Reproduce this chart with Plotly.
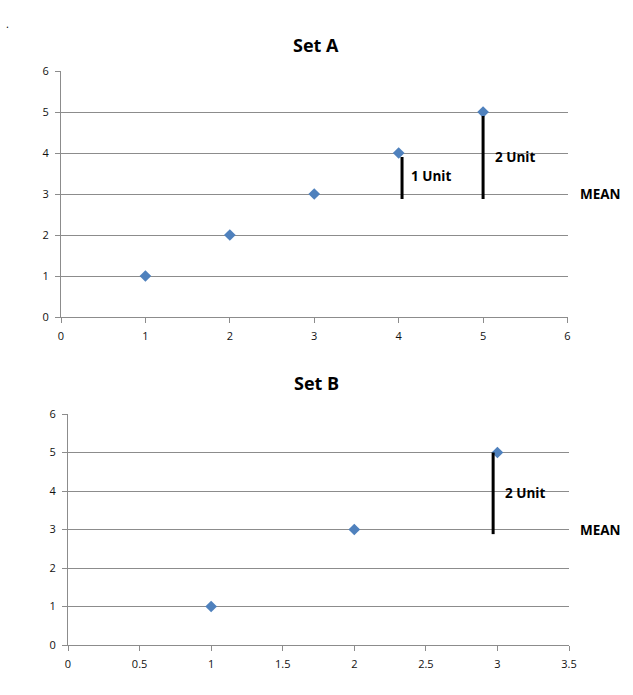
import plotly.graph_objects as go

# Data
set_a_x = [1, 2, 3, 4, 5]
set_a_y = [1, 2, 3, 4, 5]
set_b_x = [1, 2, 3]
set_b_y = [1, 3, 5]
a_ticks_x = [0, 1, 2, 3, 4, 5, 6]
b_ticks_x = [0, 0.5, 1, 1.5, 2, 2.5, 3, 3.5]
y_ticks = [0, 1, 2, 3, 4, 5, 6]
a_unit_points = [4, 5]       # x-values of Set A points with deviation bars
b_unit_points = [3]          # x-values of Set B points with deviation bars

mean_a = sum(set_a_y) / len(set_a_y)
mean_b = sum(set_b_y) / len(set_b_y)

W, H = 633, 695
def px(x):
    return x / W
def py(y):
    return 1 - y / H

FONT = "Open Sans"
MARK = "#4F81BD"
GRID = "#8C8C8C"
LBL = 13.5

fig = go.Figure()
fig.add_trace(go.Scatter(x=set_a_x, y=set_a_y, mode="markers",
                         marker=dict(symbol="diamond", size=9, color=MARK),
                         xaxis="x", yaxis="y", showlegend=False))
fig.add_trace(go.Scatter(x=set_b_x, y=set_b_y, mode="markers",
                         marker=dict(symbol="diamond", size=9, color=MARK),
                         xaxis="x2", yaxis="y2", showlegend=False))

axis_common = dict(showline=True, linecolor=GRID, linewidth=1, ticks="outside",
                   ticklen=5, tickcolor=GRID, zeroline=False, automargin=False,
                   ticklabelstandoff=4,
                   tickfont=dict(family=FONT, size=11, color="#111"))

fig.update_layout(
    width=W, height=H, margin=dict(l=0, r=0, t=0, b=0),
    plot_bgcolor="white", paper_bgcolor="white",
    xaxis=dict(domain=[px(61), px(567.5)], range=[0, 6], tickvals=a_ticks_x,
               showgrid=False, anchor="y", **axis_common),
    yaxis=dict(domain=[py(317), py(71)], range=[0, 6], tickvals=y_ticks,
               showgrid=True, gridcolor=GRID, gridwidth=1, anchor="x", **axis_common),
    xaxis2=dict(domain=[px(68), px(569)], range=[0, 3.5], tickvals=b_ticks_x,
                ticktext=[str(v) for v in b_ticks_x],
                showgrid=False, anchor="y2", **axis_common),
    yaxis2=dict(domain=[py(645), py(414)], range=[0, 6], tickvals=y_ticks,
                showgrid=True, gridcolor=GRID, gridwidth=1, anchor="x2", **axis_common),
)

shapes = []
annos = []
# Set A deviation bars
for xv in a_unit_points:
    yv = set_a_y[set_a_x.index(xv)]
    dev = yv - mean_a
    off = 0.04 if dev < 1.5 else 0.0
    shapes.append(dict(type="line", xref="x", yref="y", x0=xv + off, x1=xv + off,
                       y0=mean_a - 0.12, y1=yv - 0.1, line=dict(color="black", width=3)))
    annos.append(dict(xref="x", yref="y", x=xv + 0.12,
                      y=(mean_a + yv) / 2 - 0.05 if dev < 1.5 else (mean_a + yv) / 2 - 0.1,
                      text=f"<b>{int(dev)} Unit</b>", showarrow=False, xanchor="left",
                      yanchor="middle", font=dict(family=FONT, size=LBL, color="black")))
for xv in b_unit_points:
    yv = set_b_y[set_b_x.index(xv)]
    dev = yv - mean_b
    shapes.append(dict(type="line", xref="x2", yref="y2", x0=xv - 0.03, x1=xv - 0.03,
                       y0=mean_b - 0.12, y1=yv, line=dict(color="black", width=3)))
    annos.append(dict(xref="x2", yref="y2", x=xv + 0.04, y=(mean_b + yv) / 2 - 0.05,
                      text=f"<b>{int(dev)} Unit</b>", showarrow=False, xanchor="left",
                      yanchor="middle", font=dict(family=FONT, size=LBL, color="black")))

# MEAN labels
annos.append(dict(xref="paper", yref="y", x=px(578), y=mean_a, text="<b>MEAN</b>",
                  showarrow=False, xanchor="left", yanchor="middle",
                  font=dict(family=FONT, size=LBL, color="black")))
annos.append(dict(xref="paper", yref="y2", x=px(578), y=mean_b, text="<b>MEAN</b>",
                  showarrow=False, xanchor="left", yanchor="middle",
                  font=dict(family=FONT, size=LBL, color="black")))
# Titles
annos.append(dict(xref="paper", yref="paper", x=px(316), y=py(45), text="<b>Set A</b>",
                  showarrow=False, xanchor="center", yanchor="middle",
                  font=dict(family=FONT, size=18, color="black")))
annos.append(dict(xref="paper", yref="paper", x=px(316), y=py(383), text="<b>Set B</b>",
                  showarrow=False, xanchor="center", yanchor="middle",
                  font=dict(family=FONT, size=18, color="black")))
# stray dot
annos.append(dict(xref="paper", yref="paper", x=px(7), y=py(24), text=".",
                  showarrow=False, xanchor="center", yanchor="middle",
                  font=dict(family=FONT, size=11, color="black")))

fig.update_layout(shapes=shapes, annotations=annos)
fig.write_html("out.html", config={"displayModeBar": False},
               post_script="document.body.style.margin='0';")
